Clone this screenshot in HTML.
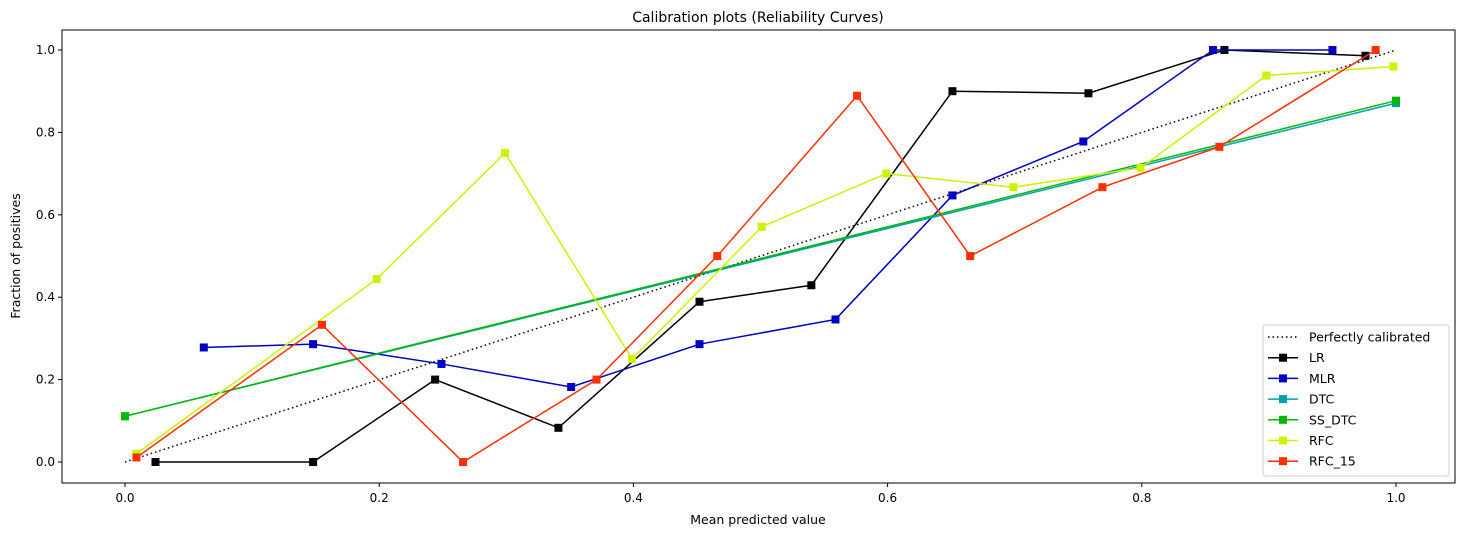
<!DOCTYPE html>
<html><head><meta charset="utf-8"><style>
body{margin:0;background:#fff;}
svg{display:block;font-family:"DejaVu Sans","Liberation Sans",sans-serif;}
</style></head><body>
<svg id="chart" width="1469" height="536" xmlns="http://www.w3.org/2000/svg">
<text x="758" y="22" font-size="14" text-anchor="middle">Calibration plots (Reliability Curves)</text>
<text x="758" y="524" font-size="12.5" text-anchor="middle">Mean predicted value</text>
<text x="20" y="256" font-size="12.5" text-anchor="middle" transform="rotate(-90 20 256)">Fraction of positives</text>
<g id="ticks"></g>
<g id="series"></g>
<rect x="62" y="30" width="1393" height="453" fill="none" stroke="#000" stroke-width="1"/>
<g id="legend"></g>
</svg>
<script>
const xTicks=[0,0.2,0.4,0.6,0.8,1.0];
const yTicks=[0,0.2,0.4,0.6,0.8,1.0];
const names=["LR","MLR","DTC","SS_DTC","RFC","RFC_15"];
const colors=["#000000","#0000c0","#00a0b0","#00b800","#ccf200","#ff3000"];
const perfX=[0,1]; const perfY=[0,1];
const lrX=[0.024,0.148,0.244,0.341,0.452,0.540,0.651,0.758,0.865,0.976];
const lrY=[0,0,0.2,0.083,0.389,0.429,0.9,0.895,1.0,0.986];
const mlrX=[0.062,0.148,0.249,0.351,0.452,0.559,0.651,0.754,0.856,0.950];
const mlrY=[0.278,0.286,0.238,0.182,0.286,0.346,0.647,0.778,1.0,1.0];
const dtcX=[0,1.0]; const dtcY=[0.111,0.871];
const ssX=[0,1.0]; const ssY=[0.111,0.877];
const rfcX=[0.009,0.198,0.299,0.399,0.501,0.599,0.699,0.799,0.898,0.998];
const rfcY=[0.02,0.444,0.75,0.25,0.571,0.7,0.667,0.714,0.938,0.96];
const rf15X=[0.009,0.155,0.266,0.371,0.466,0.576,0.665,0.769,0.861,0.984];
const rf15Y=[0.011,0.333,0,0.2,0.5,0.889,0.5,0.667,0.765,1.0];
const seriesX=[lrX,mlrX,dtcX,ssX,rfcX,rf15X];
const seriesY=[lrY,mlrY,dtcY,ssY,rfcY,rf15Y];
const sx=v=>125+v*1271, sy=v=>462-v*412;
const NS="http://www.w3.org/2000/svg";
function mk(tag,attrs,parent){const e=document.createElementNS(NS,tag);for(const k in attrs)e.setAttribute(k,attrs[k]);parent.appendChild(e);return e;}
const tg=document.getElementById('ticks');
xTicks.forEach(t=>{const l=mk('line',{x1:sx(t),x2:sx(t),y1:483,y2:487,stroke:'#000'},tg);


const tx=mk('text',{x:sx(t),y:502,'font-size':12,'text-anchor':'middle'},tg);tx.textContent=t.toFixed(1);

});
yTicks.forEach(t=>{const l=mk('line',{x1:58,x2:62,y1:sy(t),y2:sy(t),stroke:'#000'},tg);


const tx=mk('text',{x:55,y:sy(t)+4,'font-size':12,'text-anchor':'end'},tg);tx.textContent=t.toFixed(1);

});
const sg=document.getElementById('series');
const pl=mk('polyline',{points:perfX.map((x,i)=>sx(x)+','+sy(perfY[i])).join(' '),fill:'none',stroke:'#000','stroke-width':1.5,'stroke-dasharray':'1.5,3'},sg);


names.forEach((n,k)=>{const g=mk('g',{},sg);


const X=seriesX[k],Y=seriesY[k];
mk('polyline',{points:X.map((x,i)=>sx(x)+','+sy(Y[i])).join(' '),fill:'none',stroke:colors[k],'stroke-width':1.5},g);
X.forEach((x,i)=>{const r=mk('rect',{x:sx(x)-4,y:sy(Y[i])-4,width:8,height:8,fill:colors[k]},g);

});});
const lg=document.getElementById('legend');


mk('rect',{x:1263,y:325,width:186,height:151,rx:3,fill:'#fff','fill-opacity':0.8,stroke:'#ccc'},lg);
const labels=["Perfectly calibrated"].concat(names);
labels.forEach((n,i)=>{const y=337+i*20.7;
const e=mk('g',{},lg);


if(i===0){mk('line',{x1:1268,x2:1298,y1:y,y2:y,stroke:'#000','stroke-width':1.5,'stroke-dasharray':'1.5,3'},e);}
else{mk('line',{x1:1268,x2:1298,y1:y,y2:y,stroke:colors[i-1],'stroke-width':1.5},e);
mk('rect',{x:1279,y:y-4,width:8,height:8,fill:colors[i-1]},e);}
const t=mk('text',{x:1309,y:y+4.5,'font-size':12.5},e);t.textContent=n;});
</script>
</body></html>
